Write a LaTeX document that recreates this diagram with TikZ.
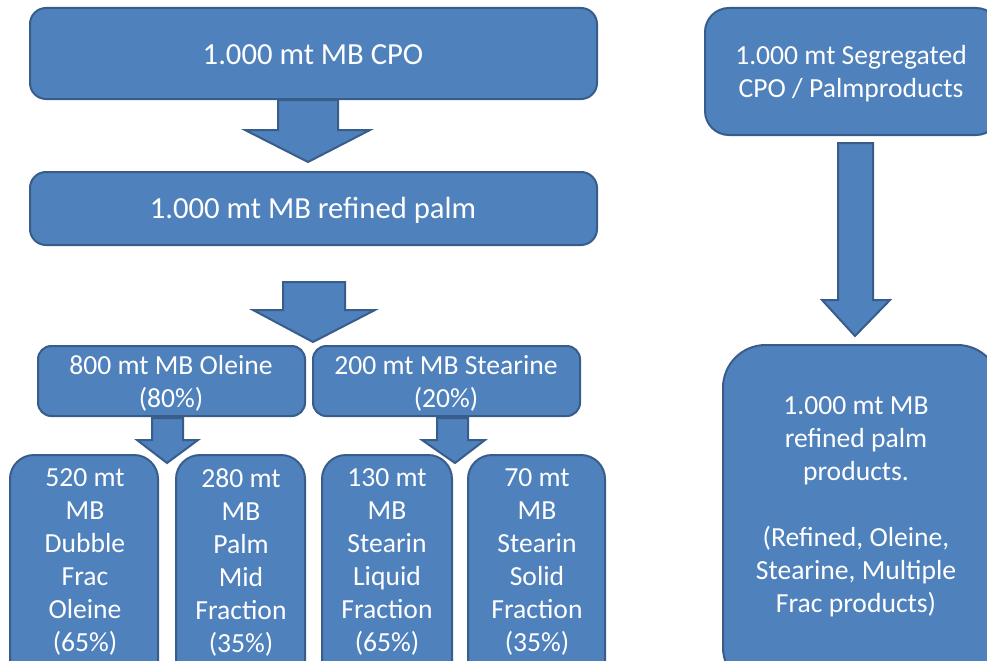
\documentclass[tikz,border=0pt]{standalone}
\usepackage{fontspec}
\setmainfont{Carlito}
\usetikzlibrary{fit}
\definecolor{boxfill}{RGB}{79,129,189}
\definecolor{boxline}{RGB}{56,93,138}
\tikzset{
  box/.style={draw=boxline, fill=boxfill, line width=1.5pt, inner sep=0pt},
  txt/.style={text=white, align=center, inner sep=0pt, font=\fontsize{20.7}{24.75}\selectfont},
  bigtxt/.style={txt, font=\fontsize{23}{27}\selectfont},
  blockarrow/.style={draw=boxline, fill=boxfill, line width=1.5pt, line join=miter},
}
\begin{document}
\begin{tikzpicture}[x=0.75pt,y=-0.75pt]
\useasboundingbox (0,0) rectangle (987,660);
\clip (0,0) rectangle (987,660);
% boxes
\node[box, rounded corners=12pt, fit={(30,8) (597,99)}] (a) {};
\node[box, rounded corners=12pt, fit={(30,172) (597,245)}] (b) {};
\node[box, rounded corners=10pt, fit={(38,346) (305,416)}] (c) {};
\node[box, rounded corners=10pt, fit={(313,346) (580,416)}] (d) {};
\node[box, rounded corners=18pt, fit={(10,455) (158,690)}] (e1) {};
\node[box, rounded corners=18pt, fit={(176,455) (305,690)}] (e2) {};
\node[box, rounded corners=18pt, fit={(322,455) (452,690)}] (e3) {};
\node[box, rounded corners=18pt, fit={(468,455) (605,690)}] (e4) {};
\node[box, rounded corners=18pt, fit={(705,8) (1000,135)}] (r1) {};
\node[box, rounded corners=32pt, fit={(723,345) (1000,690)}] (r2) {};
% texts
\node[bigtxt] (ta) at (313,55) {1.000 mt MB CPO};
\node[bigtxt] (tb) at (313,210) {1.000 mt MB refined palm};
\node[txt] (tc) at (171,383) {800 mt MB Oleine\\(80\%)};
\node[txt] (td) at (446,383) {200 mt MB Stearine\\(20\%)};
\node[txt] (te1) at (85,562) {520 mt\\MB\\Dubble\\Frac\\Oleine\\(65\%)};
\node[txt] (te2) at (241,562) {280 mt\\MB\\Palm\\Mid\\Fraction\\(35\%)};
\node[txt] (te3) at (387,562) {130 mt\\MB\\Stearin\\Liquid\\Fraction\\(65\%)};
\node[txt] (te4) at (537,562) {70 mt\\MB\\Stearin\\Solid\\Fraction\\(35\%)};
\node[txt] (tr1) at (851,74) {1.000 mt Segregated\\CPO / Palmproducts};
\node[txt] (tr2) at (856,507) {1.000 mt MB\\refined palm\\products.\\[24.75pt](Refined, Oleine,\\Stearine, Multiple\\Frac products)};
% block arrows
\draw[blockarrow] (278,100) -- (338,100) -- (338,130) -- (370,130) -- (308,162) -- (245,130) -- (278,130) -- cycle;
\draw[blockarrow] (283,282) -- (345,282) -- (345,310) -- (375,310) -- (313,342) -- (253,310) -- (283,310) -- cycle;
\draw[blockarrow] (152,418) -- (183,418) -- (183,440) -- (198,440) -- (167,463) -- (137,440) -- (152,440) -- cycle;
\draw[blockarrow] (437,418) -- (468,418) -- (468,440) -- (485,440) -- (455,463) -- (422,440) -- (437,440) -- cycle;
\draw[blockarrow] (838,143) -- (873,143) -- (873,300) -- (890,300) -- (855,336) -- (822,300) -- (838,300) -- cycle;
\end{tikzpicture}
\end{document}
